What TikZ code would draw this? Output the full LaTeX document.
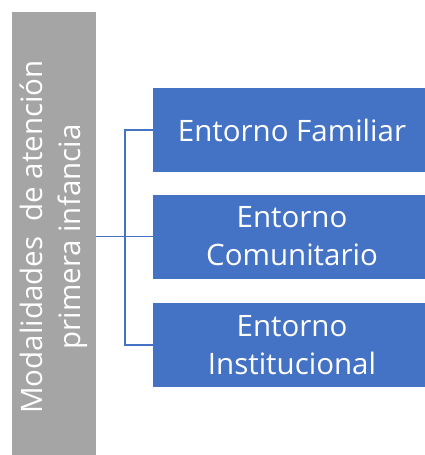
\documentclass[tikz,border=0pt]{standalone}
\usepackage{fontspec}
\setmainfont{Open Sans}
\definecolor{offblue}{HTML}{4472C4}
\definecolor{offgray}{HTML}{A5A5A5}
\begin{document}
\begin{tikzpicture}[x=1pt,y=-1pt,
  bluebox/.style={draw=none,fill=offblue,text=white,minimum width=278pt,minimum height=84pt,
    align=center,inner sep=0pt,font=\fontsize{29.5}{38}\selectfont},
  graybox/.style={draw=none,fill=offgray,text=white,rotate=90,minimum width=450pt,minimum height=84pt,
    align=center,inner sep=0pt,font=\fontsize{29.5}{38}\selectfont},
  link/.style={draw=offblue,line width=1.4pt}]
\useasboundingbox (0,0) rectangle (425,455);
\clip (0,0) rectangle (425,455);
\fill[white] (0,0) rectangle (425,455);
\node[graybox] (g) at (54,237) {Modalidades\ \ de atención\\primera infancia};
\node[bluebox] (b1) at (292,130) {Entorno Familiar};
\node[bluebox] (b2) at (292,236.5) {Entorno\\Comunitario};
\node[bluebox] (b3) at (292,345) {Entorno\\Institucional};
\draw[link] (g.south |- b2.west) -- (b2.west);
\coordinate (bus) at (125,0);
\draw[link] (b1.west) -- (bus |- b1.west) -- (bus |- b3.west) -- (b3.west);
\end{tikzpicture}
\end{document}
